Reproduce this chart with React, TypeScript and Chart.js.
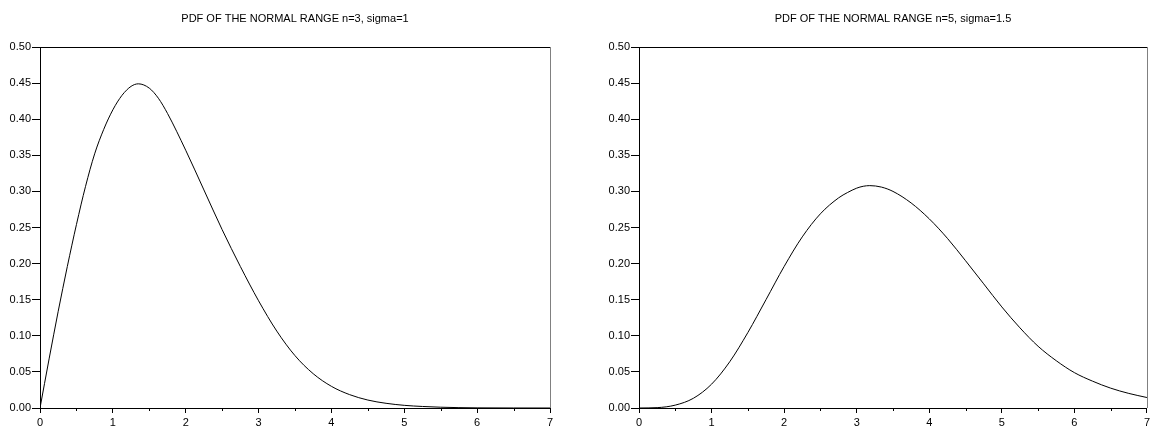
import React, { useEffect, useRef } from "react";
import { Chart, registerables } from "chart.js";

Chart.register(...registerables);

// ---- data ----
const leftTitle = "PDF OF THE NORMAL RANGE n=3, sigma=1";
const rightTitle = "PDF OF THE NORMAL RANGE n=5, sigma=1.5";

const leftX = [0, 0.125, 0.25, 0.375, 0.5, 0.625, 0.75, 0.875, 1, 1.125, 1.25, 1.35, 1.5, 1.625, 1.75, 2, 2.25, 2.5, 2.75, 3, 3.25, 3.5, 3.75, 4, 4.25, 4.5, 4.75, 5, 5.25, 5.5, 5.75, 6, 6.5, 7];
const leftY = [0, 0.068, 0.134, 0.196, 0.254, 0.307, 0.352, 0.386, 0.413, 0.433, 0.4455, 0.449, 0.443, 0.429, 0.408, 0.357, 0.302, 0.247, 0.196, 0.1485, 0.1065, 0.0725, 0.0475, 0.03, 0.0185, 0.011, 0.0065, 0.0037, 0.0021, 0.0011, 0.0005, 0.0002, 0.00003, 0];

const rightX = [0, 0.25, 0.5, 0.75, 1, 1.25, 1.5, 1.75, 2, 2.25, 2.5, 2.75, 2.875, 3, 3.09, 3.18, 3.34, 3.5, 3.75, 4, 4.25, 4.5, 4.75, 5, 5.25, 5.5, 5.75, 6, 6.25, 6.5, 6.75, 7];
const rightY = [0, 0.0005, 0.004, 0.0135, 0.033, 0.064, 0.1045, 0.15, 0.196, 0.237, 0.269, 0.291, 0.2985, 0.3045, 0.3071, 0.308, 0.306, 0.3, 0.284, 0.262, 0.235, 0.204, 0.172, 0.14, 0.111, 0.0855, 0.0655, 0.049, 0.0372, 0.0275, 0.0202, 0.0145];

const xMin = 0;
const xMax = 7;
const xStep = 1;
const xMinorTicks = [0.5, 1.5, 2.5, 3.5, 4.5, 5.5, 6.5];
const yMin = 0;
const yMax = 0.5;
const yStep = 0.05;

const FONT = "'Liberation Sans', Arial, Helvetica, sans-serif";

const framePlugin = {
  id: "frameLines",
  afterDraw(chart: any) {
    const { ctx, chartArea } = chart;
    const { left, right, top, bottom } = chartArea;
    ctx.save();
    ctx.lineWidth = 1;
    ctx.strokeStyle = "#000";
    ctx.beginPath();
    ctx.moveTo(Math.round(left), Math.round(top) + 0.5);
    ctx.lineTo(Math.round(right), Math.round(top) + 0.5);
    ctx.stroke();
    ctx.strokeStyle = "#808080";
    ctx.beginPath();
    ctx.moveTo(Math.round(right) + 0.5, Math.round(top));
    ctx.lineTo(Math.round(right) + 0.5, Math.round(bottom));
    ctx.stroke();
    // minor ticks on x axis
    const xs = chart.scales.x;
    ctx.strokeStyle = "#000";
    ctx.beginPath();
    for (const v of xMinorTicks) {
      const px = Math.round(xs.getPixelForValue(v)) + 0.5;
      ctx.moveTo(px, Math.round(bottom));
      ctx.lineTo(px, Math.round(bottom) + 3);
    }
    ctx.stroke();
    ctx.restore();
  },
};

function makeConfig(xs: number[], ys: number[], title: string, yWidth: number, padRight: number): any {
  return {
    type: "line",
    data: {
      datasets: [
        {
          data: xs.map((x, i) => ({ x, y: ys[i] })),
          borderColor: "#000",
          borderWidth: 1,
          pointRadius: 0,
          fill: false,
          cubicInterpolationMode: "monotone",
        },
      ],
    },
    options: {
      responsive: false,
      animation: false,
      devicePixelRatio: 1,
      layout: { padding: { left: 0, right: padRight, top: 0, bottom: 0 } },
      plugins: {
        legend: { display: false },
        tooltip: { enabled: false },
        title: {
          display: true,
          text: title,
          fullSize: false,
          color: "#000",
          font: { family: FONT, size: 11, weight: "normal", lineHeight: 1.2 },
          padding: { top: 12, bottom: 21.8 },
        },
      },
      scales: {
        x: {
          type: "linear",
          min: xMin,
          max: xMax,
          afterFit: (s: any) => {
            s.height = 20;
          },
          border: { display: true, color: "#000", width: 1 },
          grid: { drawOnChartArea: false, drawTicks: true, tickLength: 5, tickColor: "#000", tickWidth: 1 },
          ticks: {
            stepSize: xStep,
            autoSkip: false,
            maxRotation: 0,
            padding: 3,
            color: "#000",
            font: { family: FONT, size: 11 },
            callback: (v: any) => String(v),
          },
        },
        y: {
          type: "linear",
          min: yMin,
          max: yMax,
          afterFit: (s: any) => {
            s.width = yWidth;
          },
          border: { display: true, color: "#000", width: 1 },
          grid: { drawOnChartArea: false, drawTicks: true, tickLength: 8, tickColor: "#000", tickWidth: 1 },
          ticks: {
            stepSize: yStep,
            autoSkip: false,
            padding: 1,
            color: "#000",
            font: { family: FONT, size: 11 },
            callback: (v: any) => Number(v).toFixed(2),
          },
        },
      },
    },
    plugins: [framePlugin],
  };
}

export default function App() {
  const leftRef = useRef<HTMLCanvasElement>(null);
  const rightRef = useRef<HTMLCanvasElement>(null);

  useEffect(() => {
    const c1 = new Chart(leftRef.current as HTMLCanvasElement, makeConfig(leftX, leftY, leftTitle, 40, 26));
    const c2 = new Chart(rightRef.current as HTMLCanvasElement, makeConfig(rightX, rightY, rightTitle, 63, 3));
    return () => {
      c1.destroy();
      c2.destroy();
    };
  }, []);

  return (
    <div
      style={{
        position: "absolute",
        left: 0,
        top: 0,
        width: 1153,
        height: 428,
        overflow: "hidden",
        background: "#fff",
      }}
    >
      <canvas
        ref={leftRef}
        width={576}
        height={428}
        style={{ position: "absolute", left: 0, top: 0, width: 576, height: 428, display: "block" }}
      />
      <canvas
        ref={rightRef}
        width={577}
        height={428}
        style={{ position: "absolute", left: 576, top: 0, width: 577, height: 428, display: "block" }}
      />
    </div>
  );
}
